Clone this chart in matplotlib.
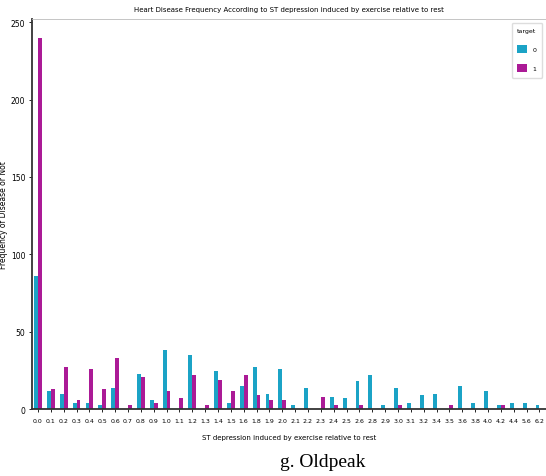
import numpy as np
import matplotlib
matplotlib.use("Agg")
import matplotlib.pyplot as plt
import pandas as pd

# ST depression (oldpeak) values and counts per target class
oldpeak = ['0.0', '0.1', '0.2', '0.3', '0.4', '0.5', '0.6', '0.7', '0.8', '0.9',
           '1.0', '1.1', '1.2', '1.3', '1.4', '1.5', '1.6', '1.8', '1.9', '2.0',
           '2.1', '2.2', '2.3', '2.4', '2.5', '2.6', '2.8', '2.9', '3.0', '3.1',
           '3.2', '3.4', '3.5', '3.6', '3.8', '4.0', '4.2', '4.4', '5.6', '6.2']
target_0 = [86, 12, 10, 4, 4, 3, 14, 0, 23, 6,
            38, 0, 35, 0, 25, 4, 15, 27, 10, 26,
            3, 14, 0, 8, 7, 18, 22, 3, 14, 4,
            9, 10, 0, 15, 4, 12, 3, 4, 4, 3]
target_1 = [240, 13, 27, 6, 26, 13, 33, 3, 21, 4,
            12, 7, 22, 3, 19, 12, 22, 9, 6, 6,
            0, 0, 8, 3, 0, 3, 0, 0, 3, 0,
            0, 0, 3, 0, 0, 0, 3, 0, 0, 0]

df = pd.DataFrame({'0': target_0, '1': target_1}, index=oldpeak)
df.columns.name = 'target'

fig = plt.figure(figsize=(5.46, 4.77), dpi=100)
ax = fig.add_axes([0.0577, 0.140, 0.942, 0.818])

df.plot(kind='bar', ax=ax, width=0.6, color=['#1BA3C6', '#AB1A96'], rot=0)

ax.set_title("Heart Disease Frequency According to ST depression induced by exercise relative to rest",
             fontsize=5, pad=6)
ax.set_xlabel("ST depression induced by exercise relative to rest", fontsize=5, labelpad=8)
ax.set_ylabel("Frequency of Disease or Not", fontsize=5.5)
ax.yaxis.set_label_coords(-0.045, 0.5)
ax.set_xlim(-0.5, len(oldpeak) - 0.5)
ax.set_yticks([0, 50, 100, 150, 200, 250])
ax.tick_params(axis='x', labelsize=4.5, length=2.5, width=0.6, pad=4)
ax.tick_params(axis='y', labelsize=5.5, length=2.5, width=0.6, pad=2)

for side in ['left', 'bottom']:
    ax.spines[side].set_color('#333333')
    ax.spines[side].set_linewidth(1.3)
for side in ['top', 'right']:
    ax.spines[side].set_color('#bbbbbb')
    ax.spines[side].set_linewidth(0.6)

leg = ax.legend(title='target', loc='upper right', fontsize=4.5, title_fontsize=4.5,
                handlelength=1.6, handleheight=1.6, borderpad=0.9, labelspacing=1.8,
                borderaxespad=0.6, framealpha=1, edgecolor='#dddddd')

fig.text(0.592, 0.022, "g. Oldpeak", family='Liberation Serif', fontsize=14, ha='center')

plt.savefig("out.png", dpi=100)
